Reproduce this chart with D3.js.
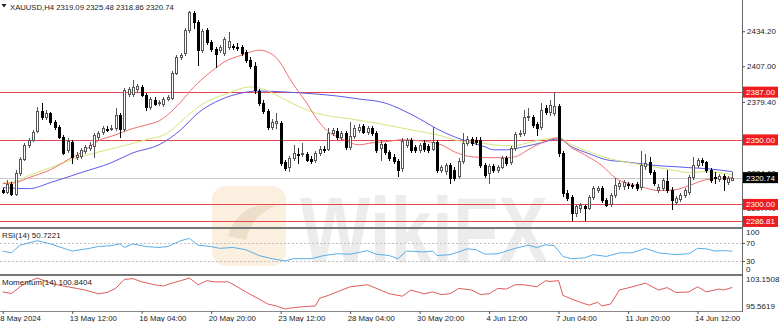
<!DOCTYPE html>
<html><head><meta charset="utf-8">
<script src="https://cdn.jsdelivr.net/npm/d3@7/dist/d3.min.js"></script>
<style>
html,body{margin:0;padding:0;background:#fff;}
svg{display:block;font-family:"Liberation Sans",Arial,sans-serif;}
</style></head><body>
<svg id="c" width="780" height="322"></svg>
<script>
// ---------------- DATA ----------------
const symbolTitle = "XAUUSD,H4";
const lastOHLC = [2319.09, 2325.48, 2318.86, 2320.74];

const opens = [2311.5,2309.9,2316.1,2308.4,2324.6,2335.4,2346.2,2350.1,2357.0,2372.4,
2367.8,2370.9,2364.0,2360.1,2352.4,2342.3,2348.5,2336.9,2337.7,2341.6,
2343.9,2345.4,2352.4,2356.2,2358.5,2358.5,2359.3,2369.4,2358.5,2385.6,
2385.6,2389.4,2391.0,2384.8,2375.5,2380.9,2378.6,2377.8,2381.7,2382.5,
2401.8,2414.1,2417.2,2434.9,2448.1,2441.1,2419.5,2434.9,2425.7,2420.3,
2419.5,2417.2,2421.8,2422.6,2421.8,2421.8,2418.0,2411.8,2407.2,2387.9,
2378.6,2372.4,2360.1,2363.2,2363.2,2333.1,2329.2,2336.2,2339.3,2339.3,
2339.3,2335.4,2334.6,2340.0,2343.1,2343.1,2355.5,2357.0,2352.4,2355.5,
2344.7,2353.1,2357.8,2360.9,2356.2,2359.3,2355.5,2343.9,2347.0,2340.8,
2336.9,2333.9,2328.5,2346.2,2350.1,2344.7,2342.3,2347.7,2345.4,2343.1,
2348.5,2326.9,2326.1,2330.8,2326.9,2322.3,2333.9,2347.7,2350.8,2350.1,
2350.1,2330.8,2324.6,2330.0,2326.9,2329.2,2336.2,2333.1,2343.9,2354.7,
2355.5,2367.8,2367.8,2362.4,2360.1,2374.8,2371.7,2370.9,2376.3,2340.0,
2309.2,2306.1,2293.7,2297.6,2298.4,2297.6,2306.1,2311.5,2313.0,2303.8,
2300.7,2307.6,2314.5,2314.5,2316.1,2315.3,2316.1,2313.8,2330.0,2333.1,
2325.4,2311.5,2313.0,2318.4,2311.5,2302.2,2304.5,2307.6,2309.9,2321.5,
2330.8,2334.6,2333.1,2326.9,2321.5,2319.9,2322.3,2317.6,2319.09];

const highs = [2313.0,2319.2,2317.6,2326.9,2336.9,2347.7,2351.6,2357.8,2375.5,2378.6,
2373.2,2371.7,2365.5,2361.6,2353.9,2351.6,2350.1,2340.8,2343.9,2346.2,
2348.5,2355.5,2357.0,2360.9,2360.9,2361.6,2374.8,2370.9,2390.2,2391.0,
2396.4,2393.3,2392.5,2386.3,2383.3,2383.3,2380.9,2383.3,2384.8,2403.3,
2415.7,2417.2,2436.5,2449.6,2449.6,2442.7,2435.7,2436.5,2427.2,2421.8,
2423.4,2429.5,2433.4,2424.1,2424.9,2423.4,2419.5,2414.1,2410.3,2389.4,
2380.9,2374.0,2366.3,2370.9,2364.7,2334.6,2337.7,2346.2,2343.9,2347.7,
2340.8,2337.7,2341.6,2345.4,2345.4,2359.3,2359.3,2359.3,2357.0,2357.0,
2364.0,2361.6,2362.4,2362.4,2360.9,2360.9,2357.0,2350.1,2347.7,2342.3,
2339.3,2335.4,2351.6,2351.6,2351.6,2346.2,2347.7,2350.1,2347.0,2360.1,
2350.1,2330.8,2332.3,2332.3,2329.2,2336.2,2355.5,2353.1,2352.4,2352.4,
2352.4,2332.3,2331.5,2331.5,2330.8,2337.7,2337.7,2345.4,2356.2,2357.8,
2373.2,2374.8,2369.4,2364.0,2378.6,2377.1,2380.9,2387.1,2377.8,2341.6,
2311.5,2307.6,2299.9,2301.4,2299.9,2307.6,2314.5,2314.5,2314.5,2305.3,
2309.2,2320.7,2318.4,2319.2,2317.6,2316.9,2317.6,2341.6,2339.3,2336.9,
2326.9,2316.1,2320.7,2326.9,2313.8,2306.8,2309.2,2313.0,2323.0,2336.9,
2336.2,2336.2,2333.9,2328.5,2325.4,2323.8,2323.8,2322.3,2325.48];

const lows = [2309.2,2309.2,2307.6,2307.6,2323.0,2334.6,2344.7,2349.3,2356.2,2366.3,
2366.3,2362.4,2358.5,2351.6,2339.3,2340.8,2332.3,2335.4,2336.2,2340.0,
2342.3,2336.9,2350.8,2354.7,2357.0,2357.8,2357.8,2352.4,2357.0,2384.0,
2384.0,2387.9,2384.0,2373.2,2374.0,2377.1,2377.1,2376.3,2380.9,2381.7,
2401.0,2412.6,2415.7,2433.4,2436.5,2407.9,2418.0,2424.1,2418.7,2406.4,
2418.0,2415.7,2420.3,2420.3,2419.5,2415.7,2410.3,2405.6,2386.3,2377.1,
2370.9,2358.5,2358.5,2359.3,2330.8,2326.9,2326.1,2334.6,2332.3,2337.7,
2333.9,2332.3,2333.1,2338.5,2340.8,2342.3,2353.9,2350.8,2350.8,2343.1,
2343.1,2351.6,2356.2,2355.5,2354.7,2353.9,2340.8,2334.6,2339.3,2334.6,
2332.3,2322.3,2326.1,2344.7,2340.8,2340.8,2340.8,2341.6,2340.8,2342.3,
2325.4,2325.4,2323.8,2316.9,2319.2,2320.7,2332.3,2346.2,2346.2,2347.0,
2329.2,2321.5,2316.9,2325.4,2325.4,2328.5,2330.8,2331.5,2342.3,2353.1,
2353.9,2365.5,2360.1,2353.9,2358.5,2370.1,2369.4,2369.4,2337.7,2306.8,
2303.8,2287.6,2291.4,2294.5,2287.6,2296.1,2304.5,2309.9,2302.2,2298.4,
2299.1,2306.1,2312.2,2312.2,2313.0,2313.0,2311.5,2312.2,2327.7,2323.8,
2315.3,2309.9,2311.5,2309.9,2296.1,2300.7,2303.0,2306.1,2308.4,2319.9,
2329.2,2330.8,2325.4,2317.6,2316.9,2318.4,2311.5,2316.1,2318.86];

const closes = [2309.9,2316.1,2308.4,2324.6,2335.4,2346.2,2350.1,2356.2,2372.4,2367.8,
2370.9,2364.0,2360.1,2352.4,2340.0,2349.3,2336.9,2338.5,2342.3,2344.7,
2346.2,2353.9,2355.5,2359.3,2358.2,2359.3,2369.4,2358.5,2388.7,2389.4,
2391.0,2391.7,2384.8,2375.5,2381.7,2377.8,2379.0,2381.7,2383.3,2401.8,
2414.1,2415.7,2434.9,2448.8,2441.1,2419.5,2434.2,2425.7,2420.3,2416.4,
2421.8,2428.0,2426.5,2421.8,2421.1,2417.2,2411.8,2407.2,2388.7,2378.6,
2372.4,2360.1,2364.0,2364.7,2332.3,2328.5,2336.2,2340.0,2338.5,2340.0,
2334.6,2333.9,2340.0,2343.1,2342.3,2355.5,2357.8,2352.4,2355.5,2344.7,
2353.1,2359.3,2360.1,2356.2,2359.3,2355.5,2342.3,2347.0,2340.8,2336.2,
2333.9,2326.9,2349.3,2350.1,2342.3,2342.3,2346.2,2343.1,2342.3,2348.5,
2326.9,2329.2,2330.8,2320.7,2320.7,2333.9,2347.7,2350.8,2347.7,2348.5,
2330.8,2323.0,2330.0,2326.9,2329.2,2336.2,2332.3,2343.9,2354.7,2355.5,
2367.8,2368.2,2361.6,2359.3,2373.2,2371.7,2377.1,2376.3,2340.0,2309.2,
2305.3,2293.7,2298.4,2299.9,2297.6,2306.1,2313.0,2313.0,2303.8,2299.9,
2307.6,2315.3,2316.9,2317.6,2315.3,2314.5,2313.0,2330.8,2332.3,2325.4,
2316.9,2313.8,2319.2,2311.5,2303.8,2305.3,2307.6,2311.5,2321.5,2330.8,
2334.6,2333.1,2326.9,2319.2,2321.1,2322.3,2319.9,2320.7,2320.74];

// moving averages: [bar index, price]
const maRed = [[0,2316.1],[3,2316.9],[6,2320.7],[11,2326.9],[15,2334.6],[18,2340.0],[22,2349.3],[26,2353.9],[29,2357.8],[33,2361.6],[36,2364.7],[38,2369.4],[41,2379.4],[44,2391.0],[47,2400.2],[49,2405.6],[51,2410.3],[55,2415.7],[57,2418.0],[59,2419.5],[62,2416.4],[64,2409.5],[66,2397.9],[68,2387.9],[70,2378.6],[72,2367.8],[74,2359.3],[77,2352.4],[79,2349.3],[82,2346.2],[85,2347.7],[88,2348.5],[92,2350.1],[96,2349.3],[101,2346.2],[104,2340.8],[108,2336.9],[112,2336.2],[116,2336.2],[118,2336.9],[121,2342.3],[124,2347.7],[128,2351.6],[131,2343.9],[134,2338.5],[138,2330.0],[141,2320.7],[147,2313.8],[151,2310.7],[155,2311.5],[158,2314.5],[162,2319.2],[168,2320.7]];
const maYellow = [[0,2316.9],[3,2317.6],[6,2322.3],[11,2328.5],[18,2336.9],[26,2343.9],[33,2350.1],[38,2355.5],[41,2364.0],[45,2375.5],[52,2386.3],[57,2391.0],[60,2389.4],[63,2384.8],[67,2377.8],[72,2370.9],[80,2366.3],[87,2362.4],[94,2357.8],[101,2353.1],[105,2349.3],[110,2347.7],[113,2346.2],[117,2345.4],[124,2350.1],[128,2351.6],[131,2346.2],[135,2340.8],[139,2336.2],[143,2333.1],[147,2330.8],[151,2328.5],[155,2326.1],[158,2324.6],[162,2325.4],[168,2323.0]];
const maBlue = [[0,2313.0],[6,2312.2],[11,2316.9],[18,2324.6],[25,2332.3],[30,2340.0],[36,2346.2],[41,2357.8],[45,2370.9],[50,2380.9],[55,2386.3],[59,2387.9],[65,2387.1],[72,2385.6],[77,2384.0],[82,2381.7],[88,2378.6],[92,2373.2],[96,2366.3],[100,2358.5],[104,2352.4],[108,2347.7],[111,2344.7],[113,2342.3],[116,2342.3],[120,2344.7],[124,2347.7],[128,2350.8],[131,2344.7],[135,2339.3],[139,2334.6],[143,2333.1],[147,2331.5],[151,2330.0],[155,2329.2],[158,2328.5],[162,2327.7],[168,2325.4]];

const rsiPts = [[0,51],[2,47],[4,64],[8,74],[11,67],[15,54],[16,51],[20,57],[22,61],[25,63],[27,67],[28,59],[30,67],[33,61],[36,59],[38,61],[41,74],[43,79],[45,64],[48,61],[50,57],[53,59],[56,54],[59,41],[62,34],[65,29],[67,34],[71,34],[74,41],[77,45],[80,44],[84,52],[86,44],[89,41],[91,34],[93,51],[97,49],[99,51],[100,41],[103,43],[105,49],[107,56],[109,54],[111,44],[114,45],[116,51],[118,57],[121,64],[123,59],[125,65],[127,63],[129,39],[131,34],[134,36],[136,43],[139,39],[142,47],[145,47],[148,57],[151,47],[153,45],[155,43],[158,45],[160,57],[162,56],[164,51],[166,52],[168,50.7]];
const momPts = [[0,99.75],[2,99.34],[4,101.0],[6,102.3],[8,103.15],[10,102.3],[12,101.6],[15,101.0],[17,100.6],[19,100.2],[22,99.3],[24,99.6],[26,100.6],[28,102.8],[30,103.0],[32,102.2],[35,101.5],[37,101.2],[39,101.9],[41,102.5],[43,103.15],[45,101.5],[47,102.5],[49,102.2],[52,102.2],[54,101.0],[56,99.75],[59,98.0],[61,96.8],[63,96.3],[65,95.56],[67,95.9],[70,96.2],[72,96.3],[73,98.2],[75,98.9],[77,99.75],[80,101.0],[84,101.5],[87,100.2],[89,99.3],[92,98.7],[94,100.2],[97,99.3],[99,99.75],[101,99.1],[103,99.3],[105,100.6],[108,100.2],[110,99.1],[112,99.3],[114,100.6],[116,100.45],[118,101.5],[120,101.5],[123,101.0],[125,102.5],[126,102.3],[128,102.5],[129,98.9],[131,98.0],[133,97.2],[135,96.5],[137,97.2],[138,96.3],[140,96.8],[142,100.2],[145,101.0],[148,101.9],[151,100.2],[153,100.8],[155,99.6],[158,99.75],[160,101.0],[162,99.75],[165,100.45],[166,100.2],[168,100.84]];

const timeTickIdx = [0,16,32,48,64,80,96,112,128,144,160];
const timeTickLabels = ["8 May 2024","13 May 12:00","16 May 04:00","20 May 20:00","23 May 12:00","28 May 04:00","30 May 20:00","4 Jun 12:00","7 Jun 04:00","11 Jun 20:00","14 Jun 12:00"];
const priceTicks = [2434.20, 2407.00, 2379.40, 2351.60, 2324.60, 2297.40];
const levels = [2387.00, 2350.00, 2300.00, 2286.81];
const lastPrice = 2320.74;
const rsiLevels = [70, 30];
const rsiAxisLabels = [100, 70, 30, 0];
const rsiLast = "50.7221";
const momMax = 103.1508, momMin = 95.5619, momLast = "100.8404";

// ---------------- LAYOUT ----------------
const plotR = 742;
const svg = d3.select("#c");
const x = d3.scaleLinear().domain([0, 168]).range([2.7, 732.3]);
const y = d3.scaleLinear().domain([2282.5, 2458.4]).range([227, 0]);
const yR = d3.scaleLinear().domain([0, 100]).range([274, 229]);
const yM = d3.scaleLinear().domain([momMin, momMax]).range([309, 278]);

const defs = svg.append("defs");
defs.append("clipPath").attr("id","cpP").append("rect").attr("x",0).attr("y",0).attr("width",plotR).attr("height",227);
defs.append("clipPath").attr("id","cpR").append("rect").attr("x",0).attr("y",229).attr("width",plotR).attr("height",45);
defs.append("clipPath").attr("id","cpM").append("rect").attr("x",0).attr("y",276).attr("width",plotR).attr("height",35);

// watermark
const wm = svg.append("g");
wm.append("rect").attr("x",212).attr("y",186).attr("width",74).attr("height",80).attr("rx",14)
  .attr("fill","#f7e4c4").attr("opacity",0.55);
wm.append("path").attr("d","M228 236 Q 240 200 276 206 Q 252 214 246 240 Z").attr("fill","#d9c7b0").attr("opacity",0.45);
wm.append("text").attr("x",300).attr("y",262).attr("font-size",92).attr("font-weight","bold")
  .attr("textLength",248).attr("lengthAdjust","spacingAndGlyphs")
  .attr("fill","#000").attr("opacity",0.07).text("WikiFX");

// ---------------- PRICE PANEL ----------------
const gP = svg.append("g").attr("clip-path","url(#cpP)");
gP.append("line").attr("x1",0).attr("x2",plotR)
  .attr("y1",Math.round(y(lastPrice))+0.5).attr("y2",Math.round(y(lastPrice))+0.5)
  .attr("stroke","#c8c8c8").attr("stroke-width",1);
gP.selectAll("line.lvl").data(levels).enter().append("line").attr("class","lvl")
  .attr("x1",0).attr("x2",plotR)
  .attr("y1",d=>Math.round(y(d))+0.5).attr("y2",d=>Math.round(y(d))+0.5)
  .attr("stroke","#e8464a").attr("stroke-width",1);

const lineP = d3.line().x(d=>x(d[0])).y(d=>y(d[1])).curve(d3.curveMonotoneX);
[[maBlue,"#5b5be8"],[maYellow,"#d2e67c"],[maRed,"#f07070"]].forEach(([pts,col])=>{
  gP.append("path").attr("d",lineP(pts)).attr("fill","none").attr("stroke",col).attr("stroke-width",1);
});

const bars = d3.range(opens.length).map(i=>({i,o:opens[i],h:highs[i],l:lows[i],c:closes[i]}));
const cg = gP.append("g");
bars.forEach(b=>{
  const cx = Math.round(x(b.i));
  const bull = b.c >= b.o;
  cg.append("line").attr("x1",cx+0.5).attr("x2",cx+0.5)
    .attr("y1",Math.round(y(b.h))).attr("y2",Math.round(y(b.l))+1)
    .attr("stroke", bull ? "#555" : "#000").attr("stroke-width",1);
  const top = Math.round(y(Math.max(b.o,b.c)));
  const bot = Math.round(y(Math.min(b.o,b.c)));
  if (bull) {
    cg.append("rect").attr("x",cx-1+0.5).attr("y",top+0.5)
      .attr("width",2).attr("height",Math.max(bot-top,0))
      .attr("fill","#fff").attr("stroke","#555").attr("stroke-width",1);
  } else {
    cg.append("rect").attr("x",cx-1).attr("y",top)
      .attr("width",3).attr("height",Math.max(bot-top,1)+1)
      .attr("fill","#000");
  }
});

// title
svg.append("path").attr("d","M1.5 4 L6.5 4 L4 7.5 Z").attr("fill","#222");
svg.append("text").attr("x",10).attr("y",9.5).attr("font-size",7.7).attr("fill","#222")
  .text(symbolTitle + " " + lastOHLC.map(v=>v.toFixed(2)).join(" "));

// ---------------- RSI PANEL ----------------
const gR = svg.append("g").attr("clip-path","url(#cpR)");
gR.selectAll("line.rl").data(rsiLevels).enter().append("line")
  .attr("x1",0).attr("x2",plotR)
  .attr("y1",d=>Math.round(yR(d))+0.5).attr("y2",d=>Math.round(yR(d))+0.5)
  .attr("stroke","#c0c0c0").attr("stroke-dasharray","2,2");
const lineR = d3.line().x(d=>x(d[0])).y(d=>yR(d[1]));
gR.append("path").attr("d",lineR(rsiPts)).attr("fill","none").attr("stroke","#5aaee6").attr("stroke-width",1);
svg.append("text").attr("x",2).attr("y",238).attr("font-size",8).attr("fill","#222").text("RSI(14) " + rsiLast);

// ---------------- MOMENTUM PANEL ----------------
const gM = svg.append("g").attr("clip-path","url(#cpM)");
const lineM = d3.line().x(d=>x(d[0])).y(d=>yM(d[1]));
gM.append("path").attr("d",lineM(momPts)).attr("fill","none").attr("stroke","#e05a5a").attr("stroke-width",1);
svg.append("text").attr("x",2).attr("y",285).attr("font-size",8).attr("fill","#222").text("Momentum(14) " + momLast);

// separators / frame
svg.append("rect").attr("x",0).attr("y",227).attr("width",plotR).attr("height",2).attr("fill","#777");
svg.append("rect").attr("x",0).attr("y",274).attr("width",plotR).attr("height",2).attr("fill","#777");
svg.append("line").attr("x1",0).attr("x2",plotR).attr("y1",311.5).attr("y2",311.5).attr("stroke","#888");
svg.append("line").attr("x1",plotR+0.5).attr("x2",plotR+0.5).attr("y1",0).attr("y2",312).attr("stroke","#666");

// ---------------- AXES ----------------
const axP = svg.append("g").attr("transform",`translate(${plotR},0)`)
  .call(d3.axisRight(y).tickValues(priceTicks).tickFormat(d3.format(".2f")).tickSize(3).tickPadding(2));
axP.select(".domain").remove();
axP.selectAll("text").attr("font-size",8).attr("fill","#222").attr("font-family","Liberation Sans, Arial, sans-serif");
axP.selectAll("line").attr("stroke","#555");

const boxes = levels.map(v=>({v, fill:"#ee1c1c"})).concat([{v:lastPrice, fill:"#000"}]);
const bg = svg.append("g");
boxes.forEach(b=>{
  const yy = y(b.v);
  bg.append("rect").attr("x",743).attr("y",yy-5.5).attr("width",35).attr("height",11).attr("fill",b.fill);
  bg.append("text").attr("x",746).attr("y",yy+3).attr("font-size",8).attr("fill","#fff").text(b.v.toFixed(2));
});

const rsiLabY = {100: yR(100)+5.5, 70: yR(70)+3, 30: yR(30)+3, 0: yR(0)-2};
svg.append("g").selectAll("text").data(rsiAxisLabels).enter().append("text")
  .attr("x",746).attr("y",d=>rsiLabY[d]).attr("font-size",8).attr("fill","#222").text(d=>d);
svg.append("g").selectAll("line").data(rsiLevels).enter().append("line")
  .attr("x1",742).attr("x2",745).attr("y1",d=>Math.round(yR(d))+0.5).attr("y2",d=>Math.round(yR(d))+0.5).attr("stroke","#555");
svg.append("text").attr("x",746).attr("y",yM(momMax)+4).attr("font-size",8).attr("fill","#222").text(momMax.toFixed(4));
svg.append("text").attr("x",746).attr("y",yM(momMin)).attr("font-size",8).attr("fill","#222").text(momMin.toFixed(4));

const axT = svg.append("g").attr("transform","translate(0,311)")
  .call(d3.axisBottom(x).tickValues(timeTickIdx).tickFormat((d,i)=>timeTickLabels[i]).tickSize(3).tickPadding(1));
axT.select(".domain").remove();
axT.selectAll("line").attr("stroke","#555");
axT.selectAll("text").attr("font-size",7.8).attr("fill","#222").attr("text-anchor","start").attr("dx",-3)
  .attr("font-family","Liberation Sans, Arial, sans-serif");
</script>
</body></html>
